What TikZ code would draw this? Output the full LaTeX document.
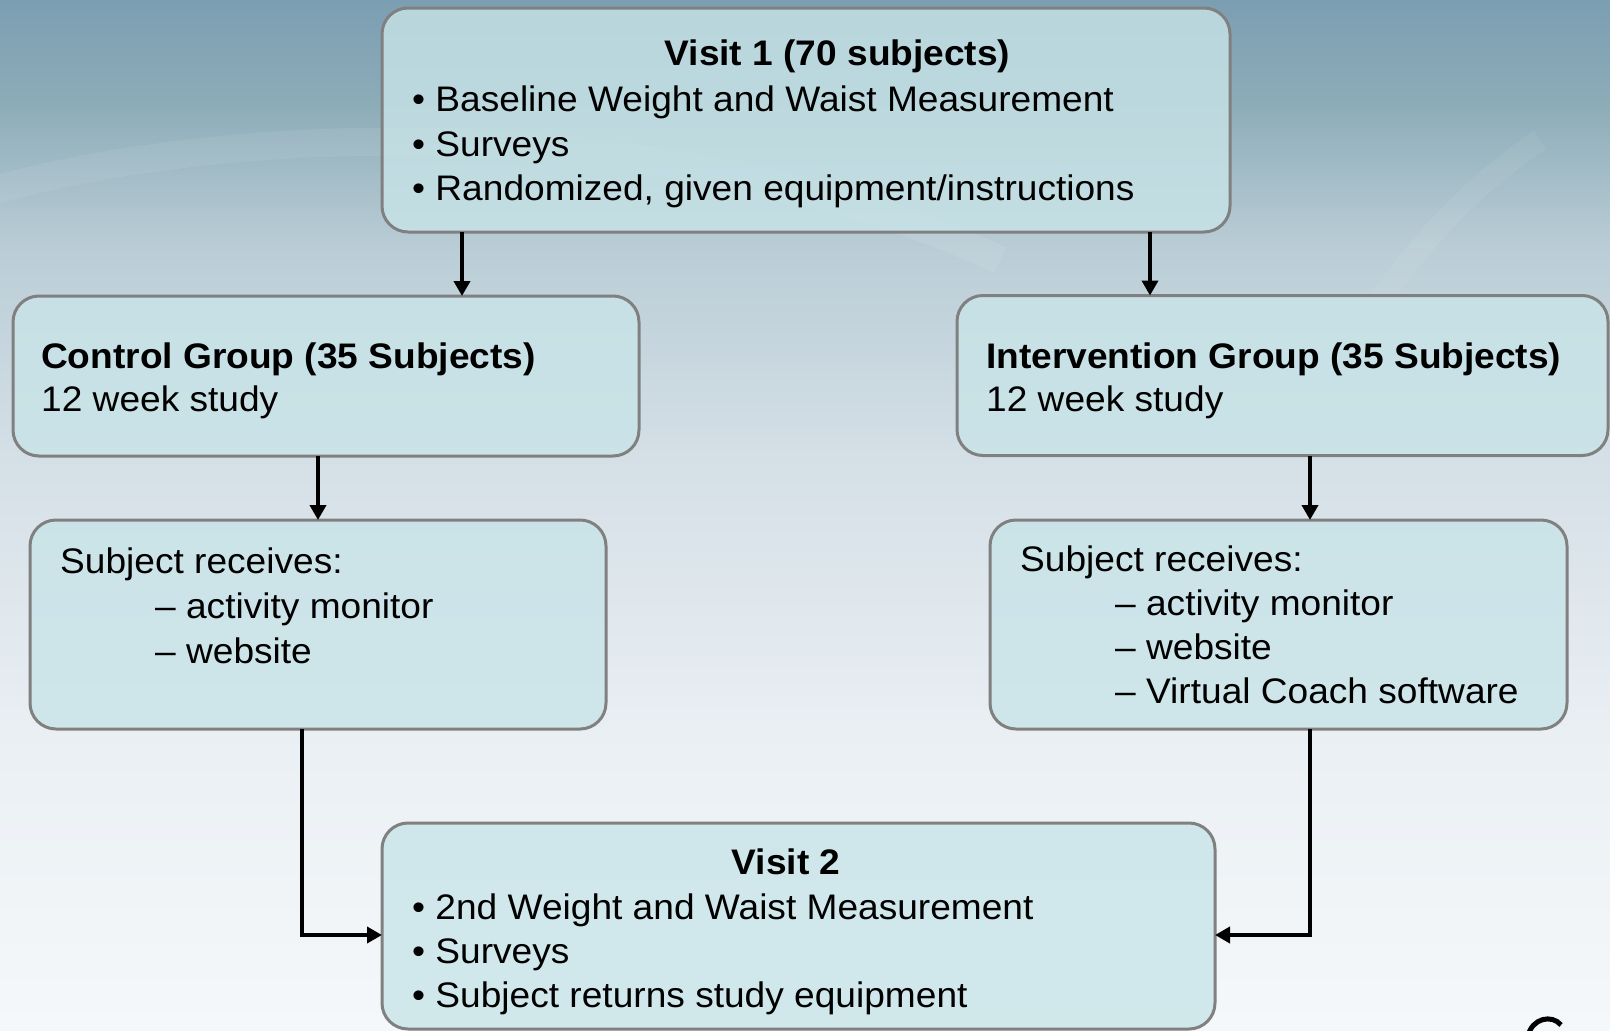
\documentclass[tikz,border=0pt]{standalone}
\usepackage{fontspec}
\setmainfont{Liberation Sans}[FakeStretch=1.045]
\usetikzlibrary{arrows.meta,calc}

\definecolor{bgcA}{RGB}{245,248,250}
\definecolor{bgcB}{RGB}{235,240,244}
\definecolor{bgcC}{RGB}{212,223,230}
\definecolor{bgcD}{RGB}{186,205,214}
\definecolor{bgcE}{RGB}{140,172,184}
\definecolor{bgcF}{RGB}{124,158,178}
\definecolor{boxfill}{RGB}{200,228,232}
\definecolor{boxline}{RGB}{128,128,128}
\pgfdeclareverticalshading{bgshade}{100bp}{color(0bp)=(bgcA); color(25bp)=(bgcA); color(38.5bp)=(bgcB); color(53bp)=(bgcC); color(63bp)=(bgcD); color(70bp)=(bgcE); color(75bp)=(bgcF); color(100bp)=(bgcF)}

\tikzset{
  box/.style={draw=boxline, line width=3pt, fill=boxfill, fill opacity=0.8,
    rounded corners=26pt, inner sep=0pt, outer sep=0pt},
  txt/.style={anchor=base west, inner sep=0pt, font=\fontsize{35.5}{44}\selectfont},
  ttl/.style={anchor=base, inner sep=0pt, font=\fontsize{35.5}{44}\selectfont\bfseries},
  arr/.style={line width=4.5pt, -{Triangle[length=15pt,width=16pt]}}
}

\begin{document}
\begin{tikzpicture}[x=1pt,y=-1pt]
\useasboundingbox (0,0) rectangle (1610,1031);
\shade[shading=bgshade] (0,0) rectangle (1610,1031);
% faint swirls in the backdrop
\draw[white, opacity=0.07, line width=28pt] (-40,200) .. controls (250,110) and (700,120) .. (1000,260);
\draw[white, opacity=0.06, line width=22pt] (1380,300) .. controls (1430,230) and (1480,180) .. (1540,140);

% boxes
\node[box, minimum width=848pt, minimum height=224pt] (visit1) at (806,120) {};
\node[box, minimum width=626pt, minimum height=160pt] (control) at (326,376) {};
\node[box, minimum width=651pt, minimum height=160pt] (interv) at (1282.5,375.5) {};
\node[box, minimum width=576pt, minimum height=209pt] (recvL) at (318,624.5) {};
\node[box, minimum width=577pt, minimum height=209pt] (recvR) at (1278.5,624.5) {};
\node[box, minimum width=833pt, minimum height=206pt] (visit2) at (798.5,926) {};

% texts
\node[ttl] (v1title) at (837.5,65) {Visit 1 (70 subjects)};
\node[txt] (v1a) at (412,111.5) {• Baseline Weight and Waist Measurement};
\node[txt] (v1b) at (412,156) {• Surveys};
\node[txt] (v1c) at (412,200) {• Randomized, given equipment/instructions};

\node[ttl, anchor=base west] (ctltitle) at (41,368) {Control Group (35 Subjects)};
\node[txt] (ctlweeks) at (41,411) {12 week study};
\node[ttl, anchor=base west] (intitle) at (986,368) {Intervention Group (35 Subjects)};
\node[txt] (inweeks) at (986,411) {12 week study};

\node[txt] (rLhead) at (60,573) {Subject receives:};
\node[txt] (rLa) at (155,618) {– activity monitor};
\node[txt] (rLb) at (155,663) {– website};

\node[txt] (rRhead) at (1020,571) {Subject receives:};
\node[txt] (rRa) at (1115,615) {– activity monitor};
\node[txt] (rRb) at (1115,659) {– website};
\node[txt] (rRc) at (1115,703) {– Virtual Coach software};

\node[ttl] (v2title) at (786,874) {Visit 2};
\node[txt] (v2a) at (412,919) {• 2nd Weight and Waist Measurement};
\node[txt] (v2b) at (412,963) {• Surveys};
\node[txt] (v2c) at (412,1007) {• Subject returns study equipment};

% connectors
\coordinate (xa) at (462,0);
\coordinate (xb) at (1150,0);
\coordinate (xc) at (318,0);
\coordinate (xd) at (1310,0);
\coordinate (ja) at (302,935);
\coordinate (jb) at (1310,935);
\draw[arr] (visit1.south -| xa) -- (control.north -| xa);
\draw[arr] (visit1.south -| xb) -- (interv.north -| xb);
\draw[arr] (control.south -| xc) -- (recvL.north -| xc);
\draw[arr] (interv.south -| xd) -- (recvR.north -| xd);
\draw[arr] (recvL.south -| ja) |- (visit2.west |- ja);
\draw[arr] (recvR.south -| jb) |- (visit2.east |- jb);

% cut-off mark in the lower right corner
\draw[line width=5pt] (1528,1036) .. controls (1532,1018) and (1552,1014) .. (1561,1025);
\end{tikzpicture}
\end{document}
